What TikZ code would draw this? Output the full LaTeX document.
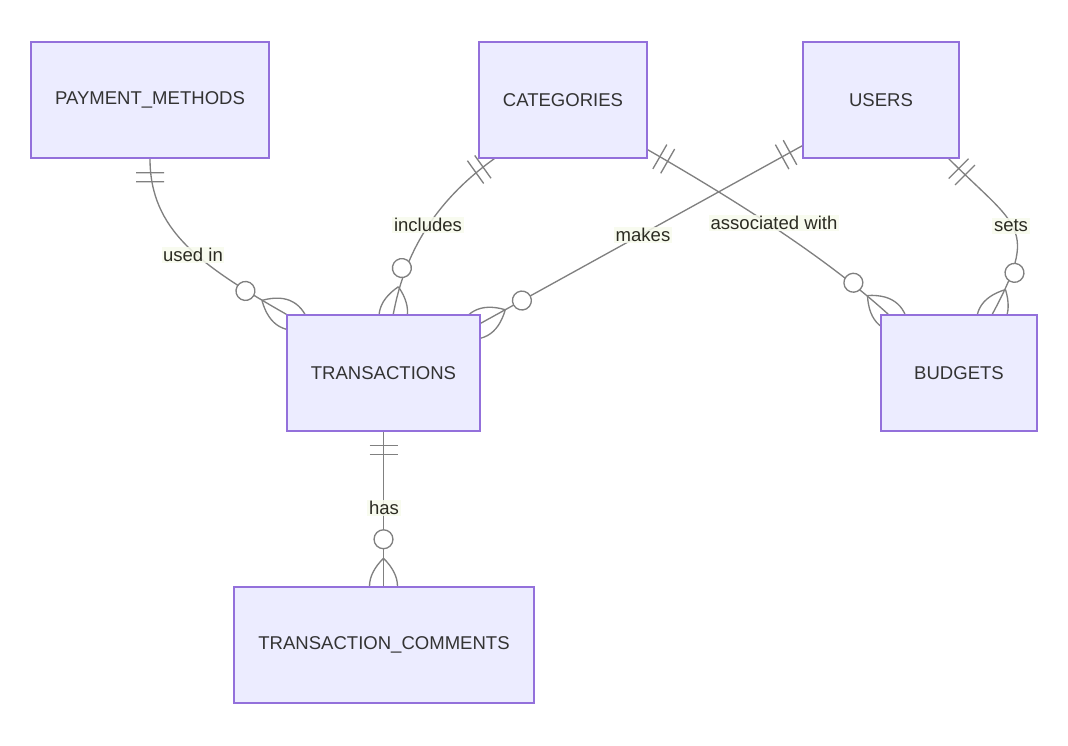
\documentclass[tikz,border=0pt]{standalone}
\usepackage{fontspec}
\setmainfont{Liberation Sans}
\usetikzlibrary{calc,decorations.markings}
\definecolor{boxfill}{HTML}{ECECFF}
\definecolor{boxline}{HTML}{9370DB}
\definecolor{linegray}{HTML}{808080}
\definecolor{lblbg}{HTML}{F7FAEC}
\definecolor{txt}{HTML}{333333}
\definecolor{lbltxt}{HTML}{2B2B22}
\pgfdeclarelayer{bg}
\pgfsetlayers{bg,main}
\newcommand{\oneonly}{\draw[linegray,line width=1pt] (10.5pt,-10.5pt) -- (10.5pt,10.5pt) (17.25pt,-10.5pt) -- (17.25pt,10.5pt);}
\newcommand{\zeromany}{\draw[linegray,line width=1pt] (-21pt,0pt) .. controls (-7pt,14pt) and (7pt,14pt) .. (21pt,0pt) .. controls (7pt,-14pt) and (-7pt,-14pt) .. (-21pt,0pt);
  \draw[linegray,line width=1pt,fill=white] (-35.25pt,0pt) circle (7.1pt);}
\tikzset{
  entity/.style={draw=boxline, fill=boxfill, line width=1.1pt, text=txt, minimum height=87pt, inner sep=0pt, font=\fontsize{13.9pt}{16pt}\selectfont},
  rel/.style={draw=linegray, line width=1pt, postaction={decorate},
    decoration={markings, mark=at position 0 with {\oneonly}, mark=at position 0.9999 with {\zeromany}}},
  lbl/.style={fill=lblbg, fill opacity=0.85, text opacity=1, text=lbltxt, inner sep=1.2pt, font=\fontsize{13.9pt}{16pt}\selectfont}
}
\begin{document}
\begin{tikzpicture}[x=0.75pt, y=-0.75pt]
\useasboundingbox (0,0) rectangle (1068,746);
\node[entity, minimum width=178.5pt] (pm) at (150,100) {PAYMENT\_METHODS};
\node[entity, minimum width=126pt] (cat) at (563,100) {CATEGORIES};
\node[entity, minimum width=117pt] (us) at (881,100) {USERS};
\node[entity, minimum width=144.75pt] (tr) at (383.5,373) {TRANSACTIONS};
\node[entity, minimum width=117pt] (bu) at (959,373) {BUDGETS};
\node[entity, minimum width=225pt] (tc) at (384,645) {TRANSACTION\_COMMENTS};
\begin{pgfonlayer}{bg}
\draw[rel] (pm.south) .. controls (150,230) and (200,265) .. (tr.north west);
\draw[rel] ($(cat.south west)+(16,0)$) .. controls (428,206) and (403,262) .. ($(tr.north west)+(107,0)$);
\draw[rel] ($(us.south west)+(0,-13)$) -- ($(tr.north east)+(0,9)$);
\draw[rel] ($(cat.south east)+(0,-9)$) .. controls (777,224) and (844.6,274.8) .. ($(bu.north west)+(8,0)$);
\draw[rel] ($(us.south east)+(-11,0)$) .. controls (1018,228) and (1039.4,226.4) .. ($(bu.north west)+(112,0)$);
\draw[rel] (tr.south) -- (tr.south |- tc.north);
\end{pgfonlayer}
\node[lbl] (l1) at (193,255) {used in};
\node[lbl] (l2) at (428,225) {includes};
\node[lbl] (l3) at (643,235) {makes};
\node[lbl] (l4) at (774,223) {associated with};
\node[lbl] (l5) at (1011,226) {sets};
\node[lbl] (l6) at (384,508) {has};
\end{tikzpicture}
\end{document}
